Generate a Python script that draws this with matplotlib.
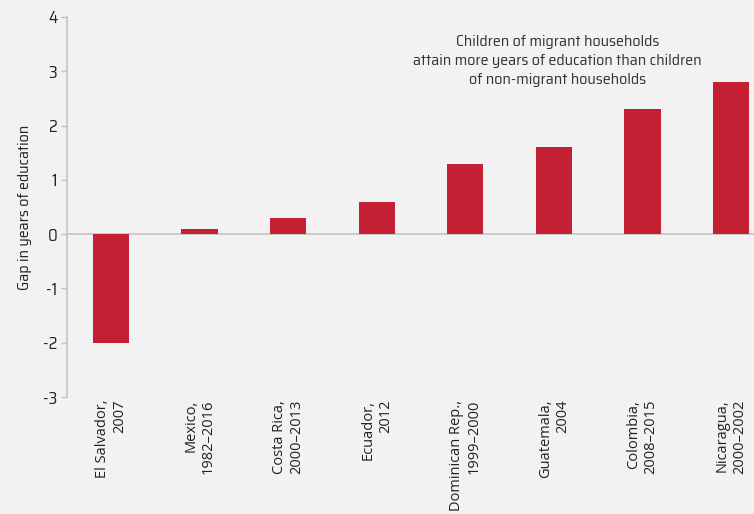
import numpy as np
import matplotlib
matplotlib.use("Agg")
import matplotlib.pyplot as plt

# data
countries = ["El Salvador,\n2007", "Mexico,\n1982\u20132016", "Costa Rica,\n2000\u20132013",
             "Ecuador,\n2012", "Dominican Rep.,\n1999\u20132000", "Guatemala,\n2004",
             "Colombia,\n2008\u20132015", "Nicaragua,\n2000\u20132002"]
gap = [-2.0, 0.1, 0.3, 0.6, 1.3, 1.6, 2.3, 2.8]
yticks = [-3, -2, -1, 0, 1, 2, 3, 4]

bg = "#f2f2f2"
red = "#c32034"
grey = "#c4c4c4"
narrow = ["Saira SemiCondensed", "DejaVu Sans"]

fig = plt.figure(figsize=(7.54, 5.14), dpi=100, facecolor=bg)
ax = fig.add_axes([0.0889, 0.2276, 0.9111, 0.7394])
ax.set_facecolor(bg)

x = np.arange(len(countries))
ax.bar(x, gap, width=0.41, color=red, zorder=2)
ax.axhline(0, color=grey, lw=1.2, zorder=1)

ax.set_xlim(-0.497, 7.26)
ax.set_ylim(-3, 4)
ax.set_yticks(yticks)
ax.set_yticklabels([str(v) for v in yticks], family=narrow, fontsize=12, color="#222222")
ax.tick_params(axis="y", length=4, color=grey, width=1, pad=3)
ax.set_xticks(x)
ax.set_xticklabels(countries, rotation=90, ha="center", va="top", multialignment="right",
                   family=["Open Sans", "DejaVu Sans"], fontsize=10.5, color="#222222")
ax.tick_params(axis="x", length=0, pad=2)

for s in ["top", "right", "bottom"]:
    ax.spines[s].set_visible(False)
ax.spines["left"].set_color(grey)
ax.spines["left"].set_linewidth(1.2)

ax.set_ylabel("Gap in years of education", family=narrow, fontsize=11.5, color="#222222", labelpad=8)

ax.text(5.04, 3.19, "Children of migrant households\nattain more years of education than children\nof non-migrant households",
        ha="center", va="center", family=narrow, fontsize=11.5, color="#333333", linespacing=1.42)

fig.savefig("out.png", dpi=100, facecolor=bg)
